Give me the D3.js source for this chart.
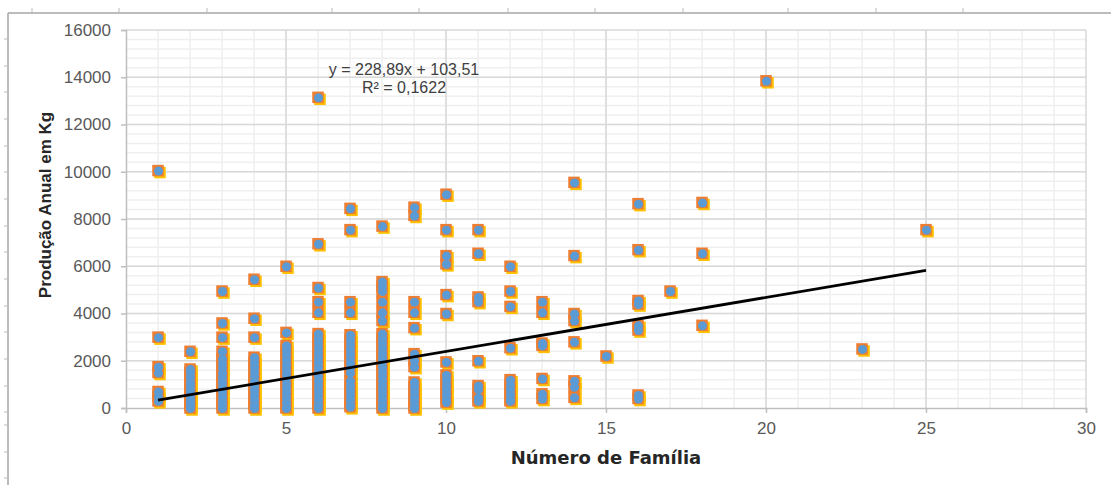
<!DOCTYPE html>
<html>
<head>
<meta charset="utf-8">
<script src="https://cdn.jsdelivr.net/npm/d3@7"></script>
<style>
  html, body { margin: 0; padding: 0; background: #fff; }
  svg { display: block; }
  text { font-family: "Liberation Sans", Arial, sans-serif; }
</style>
</head>
<body>
<div class="chart"></div>
<script>
'use strict';
// Data: families per household vs annual production (kg)
var familias = [1, 2, 3, 4, 5, 6, 7, 8, 9, 10, 11, 12, 13, 14, 15, 16, 17, 18, 20, 23, 25];
var producao = [
  [10050, 3000, 1750, 1500, 700, 500, 300],
  [2400, 1650, 1500, 1300, 1100, 950, 800, 650, 500, 350, 200, 100, 0],
  [4950, 3600, 3000, 2400, 2100, 1900, 1700, 1500, 1300, 1100, 900, 700, 500, 300, 150, 0],
  [5450, 3800, 3000, 2150, 1950, 1750, 1550, 1350, 1150, 950, 750, 550, 350, 150, 0],
  [6000, 3200, 2650, 2450, 2250, 2050, 1850, 1650, 1450, 1250, 1050, 850, 650, 450, 250, 50, 0],
  [13150, 6950, 5100, 4500, 4050, 3150, 2950, 2750, 2550, 2350, 2150, 1950, 1750, 1550, 1350, 1150, 950, 750, 550, 350, 150, 0],
  [8450, 7550, 4500, 4050, 3100, 2900, 2700, 2500, 2300, 2100, 1900, 1700, 1500, 1150, 950, 750, 550, 350, 150, 50],
  [7700, 5350, 5150, 4950, 4500, 4050, 3700, 3150, 2950, 2750, 2550, 2350, 2150, 1950, 1750, 1550, 1350, 1150, 950, 750, 550, 350, 150, 0],
  [8500, 8150, 4500, 4050, 3400, 2300, 2000, 1750, 1100, 900, 700, 500, 300, 100, 0],
  [9050, 7550, 6450, 6100, 4800, 4000, 1950, 1400, 1200, 1000, 800, 600, 400, 250],
  [7550, 6550, 4700, 4500, 2000, 950, 800, 450, 300],
  [6000, 4950, 4300, 2550, 1200, 1000, 800, 600, 400, 300],
  [4500, 4050, 2750, 2650, 1250, 600, 400],
  [9550, 6450, 4000, 3700, 2800, 1150, 900, 450],
  [2200],
  [8650, 6700, 4550, 4400, 3500, 3300, 550, 400],
  [4950],
  [8700, 6550, 3500],
  [13850],
  [2500],
  [7550]
];
var xTicks = [0, 5, 10, 15, 20, 25, 30];
var yTicks = [0, 2000, 4000, 6000, 8000, 10000, 12000, 14000, 16000];
var trendSlope = 228.89;
var trendIntercept = 103.51;
var trendRange = [1, 25];
var trendLabels = ['y = 228,89x + 103,51', 'R\u00b2 = 0,1622'];
var xTitle = 'N\u00famero de Fam\u00edlia';
var yTitle = 'Produ\u00e7\u00e3o Anual em Kg';
// page-frame ruler marks (document decoration around the chart)
var rulerTop = [32, 119, 207, 332, 419, 508, 595, 683, 788, 876, 963];
var rulerLeft = [39, 66, 92, 119, 146, 172, 199, 226, 252, 279, 306, 332, 359, 386, 412, 425, 452, 478];

(function() {
  var W = 1111, H = 485;
  var left = 126, right = 1086, top = 30, bottom = 408;

  var points = [];
  familias.forEach(function(f, i) {
    producao[i].forEach(function(v) { points.push({ x: f, y: v }); });
  });

  var svg = d3.select('.chart').append('svg')
    .attr('width', W).attr('height', H);

  var x = d3.scaleLinear().domain([0, 30]).range([left, right]);
  var y = d3.scaleLinear().domain([0, 16000]).range([bottom, top]);

  // Frame of the embedded chart
  var frame = svg.append('g').attr('stroke', '#a6a6a6');
  frame.append('line').attr('x1', 8).attr('x2', W).attr('y1', 13).attr('y2', 13).attr('stroke-width', 1.5);
  frame.append('line').attr('x1', 8).attr('x2', 8).attr('y1', 13).attr('y2', H).attr('stroke-width', 1.5);
  frame.selectAll('.rt').data(rulerTop).enter().append('line')
    .attr('x1', function(d) { return d; }).attr('x2', function(d) { return d; })
    .attr('y1', 8).attr('y2', 12).attr('stroke-width', 1).attr('stroke', '#bbb');
  frame.selectAll('.rl').data(rulerLeft).enter().append('line')
    .attr('x1', 4).attr('x2', 7)
    .attr('y1', function(d) { return d; }).attr('y2', function(d) { return d; })
    .attr('stroke-width', 1).attr('stroke', '#bbb');

  // Minor gridlines
  var grid = svg.append('g');
  grid.selectAll('.vminor').data(d3.range(1, 30)).enter().append('line')
    .attr('x1', function(d) { return x(d); }).attr('x2', function(d) { return x(d); })
    .attr('y1', top).attr('y2', bottom).attr('stroke', '#efefef').attr('stroke-width', 1.5);
  grid.selectAll('.hminor').data(d3.range(400, 16000, 400)).enter().append('line')
    .attr('x1', left).attr('x2', right)
    .attr('y1', function(d) { return y(d); }).attr('y2', function(d) { return y(d); })
    .attr('stroke', '#efefef').attr('stroke-width', 1.5);

  // Major gridlines
  grid.selectAll('.vmajor').data(xTicks.slice(1)).enter().append('line')
    .attr('x1', function(d) { return x(d); }).attr('x2', function(d) { return x(d); })
    .attr('y1', top).attr('y2', bottom).attr('stroke', '#d9d9d9').attr('stroke-width', 1.5);
  grid.selectAll('.hmajor').data(yTicks.slice(1)).enter().append('line')
    .attr('x1', left).attr('x2', right)
    .attr('y1', function(d) { return y(d); }).attr('y2', function(d) { return y(d); })
    .attr('stroke', '#d9d9d9').attr('stroke-width', 1.5);

  // Axes
  var xAxis = d3.axisBottom(x).tickValues(xTicks).tickSize(5).tickPadding(9);
  var yAxis = d3.axisLeft(y).tickValues(yTicks).tickSize(5).tickPadding(10)
    .tickFormat(d3.format('d'));

  var gx = svg.append('g').attr('transform', 'translate(0,' + bottom + ')').call(xAxis);
  var gy = svg.append('g').attr('transform', 'translate(' + left + ',0)').call(yAxis);
  [gx, gy].forEach(function(g) {
    g.select('.domain').attr('stroke', '#bfbfbf').attr('stroke-width', 1.5);
    g.selectAll('.tick line').attr('stroke', '#bfbfbf').attr('stroke-width', 1.5);
    g.selectAll('.tick text').attr('fill', '#595959')
      .style('font-family', '"Liberation Sans", Arial, sans-serif').style('font-size', '17px');
  });

  // Points: yellow square behind, orange square, blue dot
  var marks = svg.append('g');
  var s = 11.5;
  marks.selectAll('.p3').data(points).enter().append('rect')
    .attr('x', function(d) { return x(d.x) - s / 2 + 2; })
    .attr('y', function(d) { return y(d.y) - s / 2 + 2; })
    .attr('width', s).attr('height', s).attr('fill', '#ffc000');
  marks.selectAll('.p2').data(points).enter().append('rect')
    .attr('x', function(d) { return x(d.x) - s / 2; })
    .attr('y', function(d) { return y(d.y) - s / 2; })
    .attr('width', s).attr('height', s).attr('fill', '#ed7d31');
  marks.selectAll('.p1').data(points).enter().append('circle')
    .attr('cx', function(d) { return x(d.x) + 0.5; })
    .attr('cy', function(d) { return y(d.y) + 0.5; })
    .attr('r', 4.5).attr('fill', '#5b9bd5');

  // Linear trendline
  svg.append('line')
    .attr('x1', x(trendRange[0])).attr('y1', y(trendSlope * trendRange[0] + trendIntercept))
    .attr('x2', x(trendRange[1])).attr('y2', y(trendSlope * trendRange[1] + trendIntercept))
    .attr('stroke', '#000').attr('stroke-width', 2.8);

  svg.append('text').attr('x', 404).attr('y', 75).attr('text-anchor', 'middle')
    .attr('fill', '#404040').style('font-size', '16px').text(trendLabels[0]);
  svg.append('text').attr('x', 404).attr('y', 93).attr('text-anchor', 'middle')
    .attr('fill', '#404040').style('font-size', '16px').text(trendLabels[1]);

  // Axis titles
  svg.append('text').attr('x', (left + right) / 2).attr('y', 464)
    .attr('text-anchor', 'middle').attr('fill', '#262626')
    .style('font-family', '"DejaVu Sans", sans-serif')
    .style('font-size', '18px').style('font-weight', 'bold').text(xTitle);
  svg.append('text')
    .attr('transform', 'translate(51,' + 205 + ') rotate(-90)')
    .attr('text-anchor', 'middle').attr('fill', '#262626')
    .style('font-size', '17px').style('font-weight', 'bold').text(yTitle);
})();
</script>
</body>
</html>
